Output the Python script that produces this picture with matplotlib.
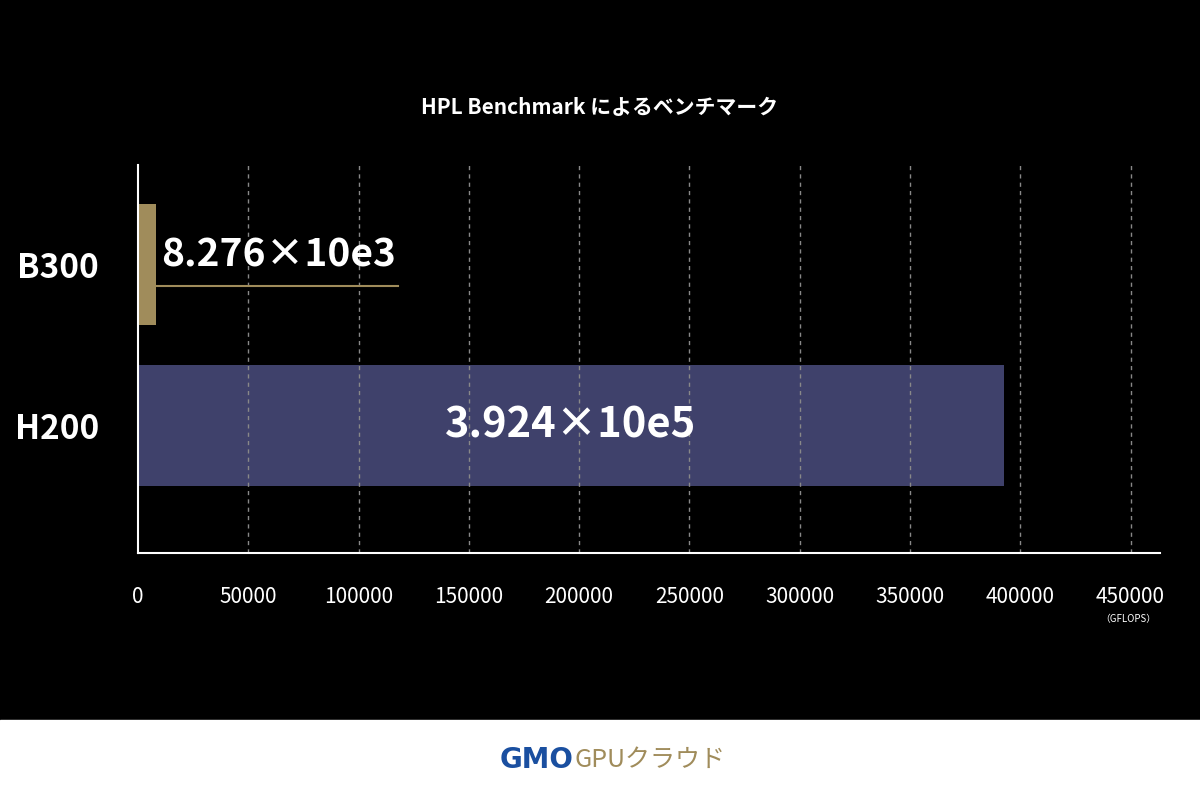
import matplotlib
matplotlib.use("Agg")
import matplotlib.pyplot as plt
from matplotlib.patches import Rectangle

categories = ["H200", "B300"]
values = [392400, 8276]
value_labels = ["3.924×10e5", "8.276×10e3"]
ticks = [0, 50000, 100000, 150000, 200000, 250000, 300000, 350000, 400000, 450000]
colors = ["#3f416b", "#a08c5b"]

plt.rcParams['font.family'] = ['Liberation Sans Narrow', 'Noto Sans CJK JP', 'DejaVu Sans']
fig = plt.figure(figsize=(12, 8), dpi=100)
fig.patch.set_facecolor("black")
fig.add_artist(Rectangle((0, 0), 1, 0.1, transform=fig.transFigure, color="white"))

ax = fig.add_axes([0.115, 0.309, 0.852, 0.485])
ax.set_facecolor("black")
ax.barh([0, 1], values, height=0.75, color=colors)
ax.set_xlim(0, 463500)
ax.set_ylim(-0.79, 1.62)
for t in ticks[1:]:
    ax.axvline(t, color="#888888", ls=(0, (3, 3)), lw=1)
for s in ["top", "right"]:
    ax.spines[s].set_visible(False)
for s in ["left", "bottom"]:
    ax.spines[s].set_color("white")
    ax.spines[s].set_linewidth(1.5)
ax.set_xticks(ticks)
ax.set_xticklabels([str(t) for t in ticks], color="white", fontsize=15)
ax.tick_params(axis="x", length=0, pad=24)
ax.set_yticks([0, 1])
ax.set_yticklabels(categories, color="white", fontsize=24, fontweight="bold")
ax.tick_params(axis="y", length=0, pad=28)

ax.text(values[0] / 2, 0, value_labels[0], color="white", fontsize=30, fontweight="bold", ha="center", va="center")
ax.plot([values[1], 118000], [0.87, 0.87], color="#a08c5b", lw=1.5)
ax.text(63500, 1.06, value_labels[1], color="white", fontsize=28, fontweight="bold", ha="center", va="center")
fig.text(0.94, 0.222, "（GFLOPS）", color="white", fontsize=7, ha="center", family=['Noto Sans CJK JP'])

fig.text(0.5, 0.865, "HPL Benchmark によるベンチマーク", color="white", fontsize=15, fontweight="bold",
         ha="center", va="center", family=['Noto Sans CJK JP', 'DejaVu Sans'])
fig.text(0.478, 0.05, "GMO", color="#1a4fa0", fontsize=20, fontweight="bold", ha="right", va="center",
         family=['DejaVu Sans'])
fig.text(0.479, 0.05, "GPUクラウド", color="#a08c5b", fontsize=18, ha="left", va="center",
         family=['Noto Sans CJK JP'])
fig.savefig("out.png", dpi=100, facecolor=fig.get_facecolor())
